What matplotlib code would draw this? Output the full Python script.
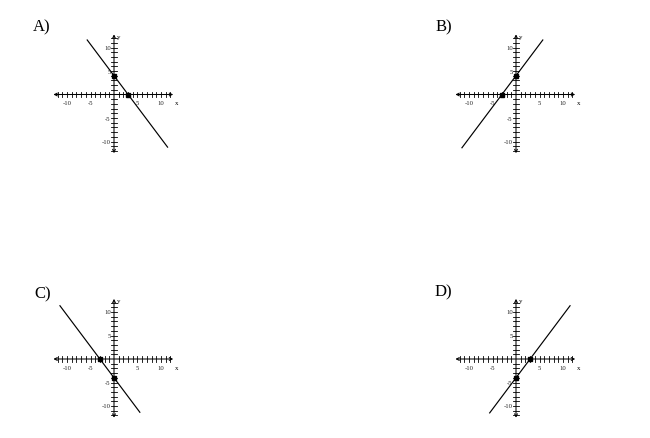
import matplotlib
matplotlib.use("Agg")
import matplotlib.pyplot as plt
import numpy as np

panel_labels = ["A)", "B)", "C)", "D)"]
x_intercepts = [3, -3, -3, 3]
y_intercepts = [4, 4, -4, -4]
line_x_start = [-5.7, -11.5, -11.5, -5.6]
line_x_end = [11.4, 5.7, 5.5, 11.5]
tick_values = list(range(-12, 13))
labeled_ticks = [-10, -5, 5, 10]

W, H = 650, 439
fig = plt.figure(figsize=(W / 100, H / 100), dpi=100)
plt.rcParams['font.family'] = ['Liberation Serif', 'DejaVu Serif']

origins = [(114, 95.5), (516, 95.5), (114, 360), (516, 360)]
label_pos = [(33, 31), (436, 31), (34, 298), (435, 296)]
ppu = 4.7
half = 14

for i in range(4):
    ox, oy = origins[i]
    left = (ox - half * ppu) / W
    bottom = (H - oy - half * ppu) / H
    ax = fig.add_axes([left, bottom, 2 * half * ppu / W, 2 * half * ppu / H])
    ax.set_xlim(-half, half)
    ax.set_ylim(-half, half)
    ax.axis('off')
    ax.annotate('', xy=(12.6, 0), xytext=(-12.9, 0),
                arrowprops=dict(arrowstyle='<->', lw=0.75, color='black',
                                mutation_scale=5, shrinkA=0, shrinkB=0))
    ax.annotate('', xy=(0, 12.8), xytext=(0, -12.5),
                arrowprops=dict(arrowstyle='<->', lw=0.75, color='black',
                                mutation_scale=5, shrinkA=0, shrinkB=0))
    for t in tick_values:
        if t == 0:
            continue
        ax.plot([t, t], [-0.6, 0.6], color='black', lw=0.6)
        ax.plot([-0.6, 0.6], [t, t], color='black', lw=0.6)
    for t in labeled_ticks:
        ax.text(t, -1.2, str(t), fontsize=4.8, ha='center', va='top', color='#222222')
        ax.text(-0.7, t, str(t), fontsize=4.8, ha='right', va='center', color='#222222')
    ax.text(13.3, -1.2, 'x', fontsize=5, ha='center', va='top')
    ax.text(0.6, 12.4, 'y', fontsize=5, ha='left', va='center')
    a, b = x_intercepts[i], y_intercepts[i]
    xs = np.array([line_x_start[i], line_x_end[i]])
    ys = b - b / a * xs
    ax.plot(xs, ys, color='black', lw=0.85)
    ax.plot([a, 0], [0, b], 's', color='black', markersize=2.8)
    lx, ly = label_pos[i]
    fig.text(lx / W, 1 - ly / H, panel_labels[i], fontsize=12, ha='left', va='baseline')

fig.savefig('out.png', dpi=100)
